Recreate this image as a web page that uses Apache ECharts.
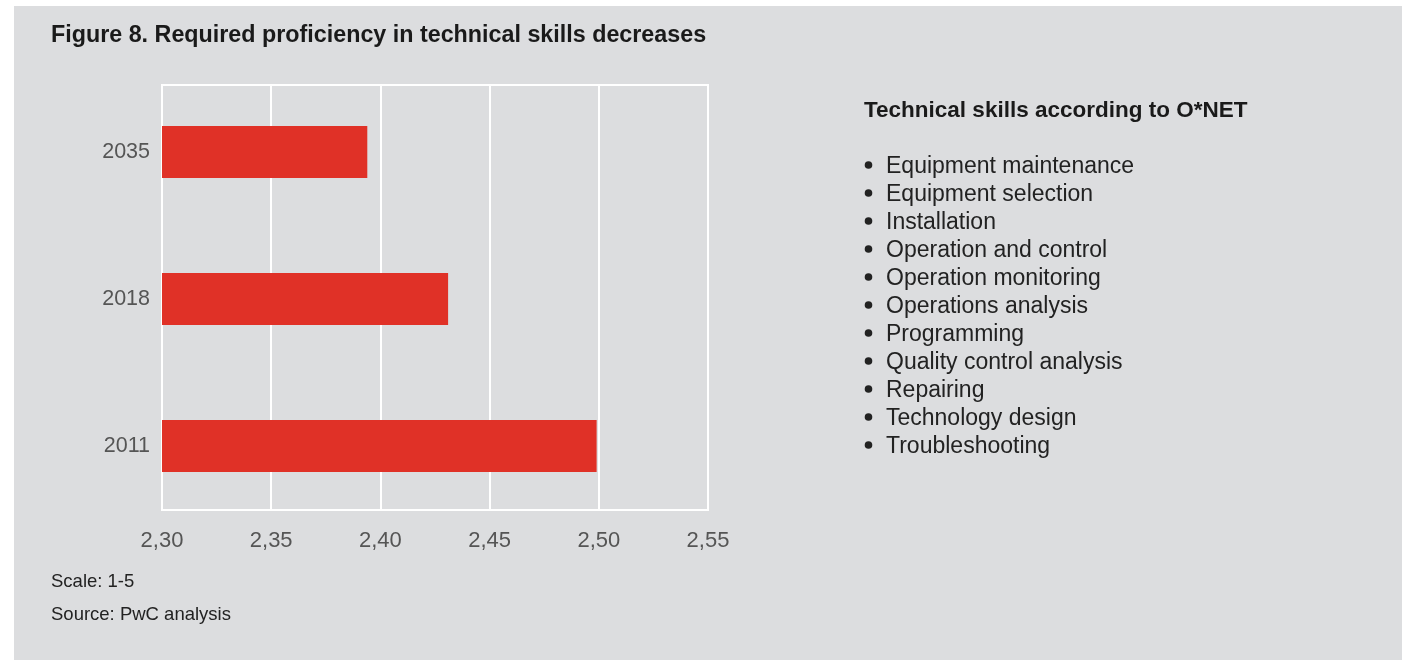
<!DOCTYPE html>
<html>
<head>
<meta charset="utf-8">
<script src="https://cdn.jsdelivr.net/npm/echarts@6/dist/echarts.min.js"></script>
<style>
html,body{margin:0;padding:0;background:#ffffff;}
#chart{width:1402px;height:661px;}
</style>
</head>
<body>
<div id="chart"></div>
<script>
var years = ['2011', '2018', '2035'];
var proficiency = [2.499, 2.431, 2.394];
var xTicks = [2.30, 2.35, 2.40, 2.45, 2.50, 2.55];
var titleText = 'Figure 8. Required proficiency in technical skills decreases';
var listHeading = 'Technical skills according to O*NET';
var skills = ['Equipment maintenance', 'Equipment selection', 'Installation', 'Operation and control',
  'Operation monitoring', 'Operations analysis', 'Programming', 'Quality control analysis',
  'Repairing', 'Technology design', 'Troubleshooting'];
var notes = ['Scale: 1-5', 'Source: PwC analysis'];

var FONT = '"Liberation Sans", Arial, Helvetica, sans-serif';
var chart = echarts.init(document.getElementById('chart'));

var graphics = [
  { type: 'rect', shape: { x: 14, y: 6, width: 1388, height: 654 }, style: { fill: '#dcdddf' }, z: -10 },
  { type: 'text', left: 51, top: 24, style: { text: titleText, font: 'bold 23.3px ' + FONT, fill: '#1a1a1a' } },
  { type: 'text', left: 864, top: 99.5, style: { text: listHeading, font: 'bold 22.5px ' + FONT, fill: '#1a1a1a' } }
];
skills.forEach(function (s, i) {
  var cy = 165 + i * 28;
  graphics.push({ type: 'circle', shape: { cx: 868.5, cy: cy, r: 3.8 }, style: { fill: '#222222' } });
  graphics.push({ type: 'text', left: 886, top: cy - 9.5,
    style: { text: s, font: '23px ' + FONT, fill: '#222222' } });
});
notes.forEach(function (s, i) {
  graphics.push({ type: 'text', left: 51, top: 572 + i * 33,
    style: { text: s, font: '18.5px ' + FONT, fill: '#222222' } });
});

chart.setOption({
  animation: false,
  backgroundColor: '#ffffff',
  graphic: graphics,
  grid: [
    { left: 162, top: 85, width: 546, height: 425, show: true, borderColor: '#ffffff', borderWidth: 2, backgroundColor: 'transparent' },
    { left: 162, top: 78.5, width: 546, height: 441 }
  ],
  xAxis: [
    { type: 'value', gridIndex: 0, min: xTicks[0], max: xTicks[xTicks.length - 1], interval: 0.05,
      axisLine: { show: false }, axisTick: { show: false },
      splitLine: { show: true, lineStyle: { color: '#ffffff', width: 2 } },
      axisLabel: { margin: 20, color: '#555555', fontSize: 22, fontFamily: FONT,
        formatter: function (v) { return v.toFixed(2).replace('.', ','); } } },
    { type: 'value', gridIndex: 1, min: xTicks[0], max: xTicks[xTicks.length - 1], interval: 0.05, show: false,
      splitLine: { show: false } }
  ],
  yAxis: [
    { type: 'category', gridIndex: 0, data: years, show: false },
    { type: 'category', gridIndex: 1, data: years,
      axisLine: { show: false }, axisTick: { show: false },
      axisLabel: { margin: 12, color: '#555555', fontSize: 21.5, fontFamily: FONT } }
  ],
  series: [{
    type: 'bar', xAxisIndex: 1, yAxisIndex: 1, data: proficiency, barWidth: 52,
    itemStyle: { color: '#e03127' }
  }]
});
</script>
</body>
</html>
